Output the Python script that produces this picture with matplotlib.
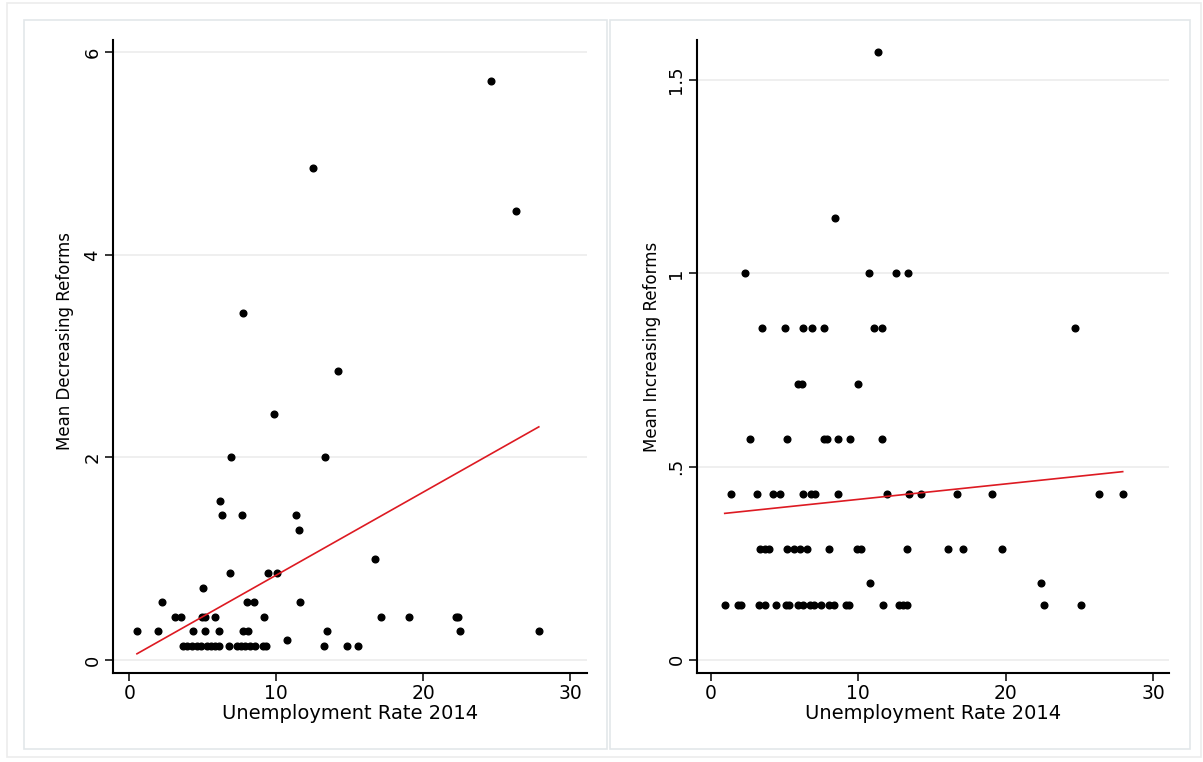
import numpy as np
import matplotlib
matplotlib.use("Agg")
import matplotlib.pyplot as plt
from matplotlib import font_manager as fm
from matplotlib.patches import Rectangle

# ---------------- data ----------------
x_dec = [24.62, 26.30, 12.50, 7.74, 14.20, 9.87, 6.94, 13.32, 6.15, 6.29, 7.65, 11.35,
         11.57, 16.70, 6.85, 9.46, 10.03, 5.00,
         2.23, 7.99, 8.49, 11.62,
         3.09, 3.52, 4.93, 5.17, 5.86, 9.19, 17.11, 19.06, 22.24, 22.35,
         0.52, 1.93, 4.34, 5.17, 6.13, 7.76, 8.08, 13.44, 22.53, 27.87,
         10.73,
         3.68, 3.95, 4.25, 4.59, 4.86, 5.31, 5.58, 5.86, 6.13, 6.77, 7.35, 7.62, 7.90,
         8.22, 8.54, 9.12, 9.31, 13.25, 14.82, 15.55]
y_dec = [5.714, 4.429, 4.857, 3.429, 2.857, 2.429, 2.0, 2.0, 1.571, 1.429, 1.429, 1.429,
         1.286, 1.0, 0.857, 0.857, 0.857, 0.714,
         0.571, 0.571, 0.571, 0.571,
         0.429, 0.429, 0.429, 0.429, 0.429, 0.429, 0.429, 0.429, 0.429, 0.429,
         0.286, 0.286, 0.286, 0.286, 0.286, 0.286, 0.286, 0.286, 0.286, 0.286,
         0.2,
         0.143, 0.143, 0.143, 0.143, 0.143, 0.143, 0.143, 0.143, 0.143, 0.143, 0.143,
         0.143, 0.143, 0.143, 0.143, 0.143, 0.143, 0.143, 0.143, 0.143]

x_inc = [11.33, 8.41,
         2.31, 10.74, 12.57, 13.36,
         3.48, 5.02, 6.29, 6.90, 7.69, 11.08, 11.60, 24.69,
         5.93, 6.22, 9.99,
         2.69, 5.18, 7.67, 7.87, 8.62, 9.45, 11.60,
         1.40, 3.12, 4.21, 4.70, 6.24, 6.83, 7.06, 8.64, 11.96, 13.41, 14.23, 16.72,
         19.10, 26.35, 27.93,
         3.35, 3.66, 3.96, 5.18, 5.68, 6.08, 6.53, 8.05, 9.93, 10.22, 13.32, 16.06,
         17.12, 19.77,
         10.79, 22.39,
         0.95, 1.85, 2.08, 3.26, 3.71, 4.41, 5.09, 5.29, 5.93, 6.27, 6.74, 7.01, 7.45,
         8.05, 8.35, 9.14, 9.36, 11.67, 12.78, 13.05, 13.28, 22.57, 25.10]
y_inc = [1.571, 1.143,
         1.0, 1.0, 1.0, 1.0,
         0.857, 0.857, 0.857, 0.857, 0.857, 0.857, 0.857, 0.857,
         0.714, 0.714, 0.714,
         0.571, 0.571, 0.571, 0.571, 0.571, 0.571, 0.571,
         0.429, 0.429, 0.429, 0.429, 0.429, 0.429, 0.429, 0.429, 0.429, 0.429, 0.429,
         0.429, 0.429, 0.429, 0.429,
         0.286, 0.286, 0.286, 0.286, 0.286, 0.286, 0.286, 0.286, 0.286, 0.286, 0.286,
         0.286, 0.286, 0.286,
         0.2, 0.2,
         0.143, 0.143, 0.143, 0.143, 0.143, 0.143, 0.143, 0.143, 0.143, 0.143, 0.143,
         0.143, 0.143, 0.143, 0.143, 0.143, 0.143, 0.143, 0.143, 0.143, 0.143, 0.143,
         0.143]

# fitted lines (intercept, slope)
fit_dec = (0.019, 0.0819)
fit_inc = (0.375, 0.0040)

dec_yticks = [0, 2, 4, 6]
dec_yticklabels = ["0", "2", "4", "6"]
inc_yticks = [0, 0.5, 1, 1.5]
inc_yticklabels = ["0", ".5", "1", "1.5"]
xticks = [0, 10, 20, 30]
xticklabels = ["0", "10", "20", "30"]

xlabel = "Unemployment Rate 2014"
ylabel_dec = "Mean Decreasing Reforms"
ylabel_inc = "Mean Increasing Reforms"

# ---------------- fonts ----------------
try:
    fm.findfont(fm.FontProperties(family="Liberation Sans Narrow"), fallback_to_default=False)
    vfont = "Liberation Sans Narrow"
    vsize_label, vsize_tick = 15.3, 15.5
except Exception:
    vfont = "DejaVu Sans"
    vsize_label, vsize_tick = 12, 13
hfont = "DejaVu Sans"

W, H = 1203, 762
fig = plt.figure(figsize=(W / 100, H / 100), dpi=100)
fig.patch.set_facecolor("white")


def fx(px):
    return px / W


def fy(py):
    return 1 - py / H


# outer frame and panel frames
fig.patches.append(Rectangle((fx(7), fy(757)), fx(1201) - fx(7), fy(3) - fy(757),
                             transform=fig.transFigure, fill=False,
                             edgecolor="#ececec", lw=1.2, zorder=-10))
for x0, x1 in [(24, 607), (610, 1190)]:
    fig.patches.append(Rectangle((fx(x0), fy(749)), fx(x1) - fx(x0), fy(20) - fy(749),
                                 transform=fig.transFigure, facecolor="white",
                                 edgecolor="#e3e7ea", lw=1.2, zorder=-10))


def make_ax(left_px, right_px, xs, ys, fit, xlim, ylim, yticks, yticklabels, ylab,
            ylab_xy):
    ax = fig.add_axes([fx(left_px), fy(673), fx(right_px) - fx(left_px), fy(40) - fy(673)])
    ax.set_zorder(5)
    ax.set_facecolor("none")
    ax.set_xlim(*xlim)
    ax.set_ylim(*ylim)
    ax.set_yticks(yticks)
    ax.set_yticklabels(yticklabels, rotation=90, va="center", fontfamily=vfont,
                       fontsize=vsize_tick)
    ax.set_xticks(xticks)
    ax.set_xticklabels(xticklabels, fontfamily=hfont, fontsize=13.5)
    ax.grid(axis="y", color="#ebebeb", lw=1.1, zorder=0)
    ax.set_axisbelow(True)
    for s in ["top", "right"]:
        ax.spines[s].set_visible(False)
    for s in ["left", "bottom"]:
        ax.spines[s].set_linewidth(1.5)
        ax.spines[s].set_color("black")
    ax.tick_params(axis="both", direction="out", length=5.8, width=1.1, color="black")
    ax.tick_params(axis="x", pad=2.4)
    ax.tick_params(axis="y", pad=2.5)
    ax.plot(xs, ys, "o", color="black", ms=4.8, mec="black", zorder=3, clip_on=False)
    xa = np.array([min(xs), max(xs)])
    ax.plot(xa, fit[0] + fit[1] * xa, color="#dd1a22", lw=1.2, zorder=4)
    ax.set_xlabel(xlabel, fontfamily=hfont, fontsize=14)
    ax.xaxis.set_label_coords(0.5, -0.049)
    ax.xaxis.label.set_va("top")
    ax.set_ylabel(ylab, fontfamily=vfont, fontsize=vsize_label)
    ax.yaxis.label.set_va("center")
    ax.yaxis.set_label_coords(*ylab_xy)
    return ax


make_ax(113, 587, x_dec, y_dec, fit_dec, (-1.11, 31.15), (-0.128, 6.12),
        dec_yticks, dec_yticklabels, ylabel_dec, (-0.102, 0.524))
make_ax(697, 1169, x_inc, y_inc, fit_inc, (-0.93, 31.07), (-0.034, 1.603),
        inc_yticks, inc_yticklabels, ylabel_inc, (-0.096, 0.515))

fig.savefig("out.png", dpi=100, facecolor="white")
